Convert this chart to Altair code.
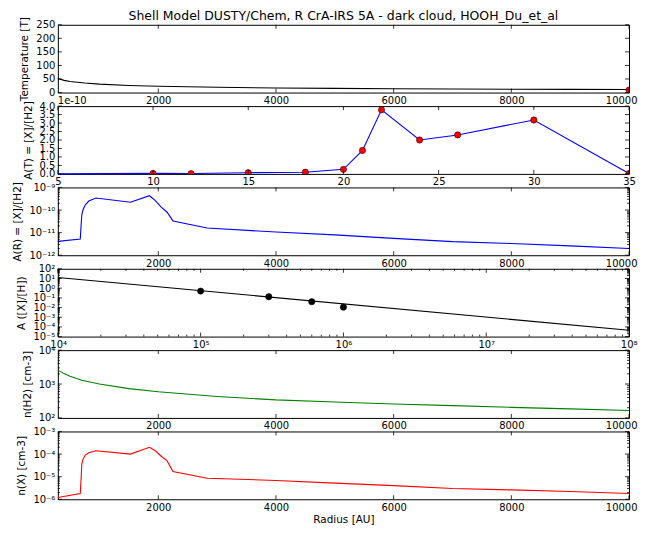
import math
import altair as alt
import pandas as pd

FONT = "DejaVu Sans"
TITLE = "Shell Model DUSTY/Chem, R CrA-IRS 5A - dark cloud, HOOH_Du_et_al"

# ---------------- data ----------------
# Panel 1: temperature profile
temp_radius = [293, 400, 500, 750, 1000, 1500, 2000, 3000, 4000, 5000, 6000, 7000, 8000, 9000, 10000]
temp_values = [52, 45, 41, 35, 31, 26, 23, 19.5, 17, 15.5, 14.2, 13.2, 12.3, 11.6, 11]
temp_mark_radius = [10000]
temp_mark_values = [9]

# Panel 2: abundance vs temperature
at_line_temp = [5, 10, 12, 15, 18, 20, 21, 22, 24, 26, 30, 35]
at_line_abund = [0.0, 0.03e-10, 0.02e-10, 0.07e-10, 0.1e-10, 0.27e-10, 1.38e-10, 3.78e-10, 2.0e-10, 2.3e-10, 3.18e-10, 0.02e-10]
at_pts_temp = [10, 12, 15, 18, 20, 21, 22, 24, 26, 30, 35]
at_pts_abund = [0.03e-10, 0.02e-10, 0.07e-10, 0.1e-10, 0.27e-10, 1.38e-10, 3.78e-10, 2.0e-10, 2.3e-10, 3.18e-10, 0.02e-10]

# Panels 3 and 6: abundance and density of X vs radius
model_radius = [293, 674, 690, 700, 720, 760, 820, 940, 1527, 1850, 1950, 2050, 2150, 2250,
                2830, 4000, 5000, 6000, 7000, 8000, 9000, 10000]
ar_abund = [4.1e-12, 5.2e-12, 2.5e-11, 6e-11, 1.0e-10, 1.7e-10, 2.5e-10, 3.4e-10, 2.2e-10, 4.3e-10,
            2.6e-10, 1.35e-10, 8e-11, 3.3e-11, 1.6e-11, 1.07e-11, 8e-12, 5.6e-12, 4.0e-12, 3.3e-12,
            2.6e-12, 2.0e-12]
nx_density = [1.2e-6, 1.8e-6, 1e-5, 3.5e-5, 6e-5, 9e-5, 1.15e-4, 1.4e-4, 1.0e-4, 2.0e-4,
              1.4e-4, 8e-5, 5e-5, 1.7e-5, 8.5e-6, 6.8e-6, 5.2e-6, 4.0e-6, 3.0e-6, 2.6e-6,
              2.2e-6, 1.8e-6]

# Panel 4: abundance vs density (log-log)
ah_line_x = [1e4, 1e8]
ah_line_y = [12.6, 4.5e-5]
ah_pts_x = [1e5, 3e5, 6e5, 1e6]
ah_pts_y = [0.5, 0.13, 0.04, 0.011]

# Panel 5: H2 density
nh2_radius = [293, 400, 500, 700, 1000, 1500, 2000, 3000, 4000, 5000, 6000, 7000, 8000, 9000, 10000]
nh2_density = [2570, 2030, 1700, 1300, 1000, 730, 590, 430, 340, 295, 258, 230, 205, 185, 166]

# Tick values
radius_ticks = [2000, 4000, 6000, 8000, 10000]
temp_ticks = [5, 10, 15, 20, 25, 30, 35]
T_ticks = [0, 50, 100, 150, 200, 250]
at_ticks = [0.0, 0.5e-10, 1.0e-10, 1.5e-10, 2.0e-10, 2.5e-10, 3.0e-10, 3.5e-10, 4.0e-10]
ar_exps = [-12, -11, -10, -9]
ah_x_exps = [4, 5, 6, 7, 8]
ah_y_exps = [-5, -4, -3, -2, -1, 0, 1, 2]
nh2_exps = [2, 3, 4]
nx_exps = [-6, -5, -4, -3]

# ---------------- helpers ----------------
W, H = 573, 68
SUP = str.maketrans("-0123456789", "\u207b\u2070\u00b9\u00b2\u00b3\u2074\u2075\u2076\u2077\u2078\u2079")


def pow_label(k):
    return "10" + str(k).translate(SUP)


def log_label_expr(exps):
    vals = [10.0 ** k for k in exps]
    expr = "'" + pow_label(exps[-1]) + "'"
    for i in range(len(exps) - 2, -1, -1):
        mid = math.sqrt(vals[i] * vals[i + 1])
        expr = "datum.value < %r ? '%s' : " % (mid, pow_label(exps[i])) + expr
    return expr


def minor_log(exps):
    return [m * 10.0 ** k for k in exps[:-1] for m in range(2, 10)]


def x_rules(vals, scale, axis, L, sw=0.8):
    base = alt.Chart(pd.DataFrame({"v": vals}))
    enc = alt.X("v:Q", scale=scale, axis=axis)
    b = base.mark_rule(color="black", strokeWidth=sw).encode(
        x=enc, y=alt.value(H), y2=alt.value(H - L))
    t = base.mark_rule(color="black", strokeWidth=sw).encode(
        x=enc, y=alt.value(0), y2=alt.value(L))
    return [b, t]


def y_rules(vals, scale, axis, L, sw=0.8):
    base = alt.Chart(pd.DataFrame({"v": vals}))
    enc = alt.Y("v:Q", scale=scale, axis=axis)
    l = base.mark_rule(color="black", strokeWidth=sw).encode(
        y=enc, x=alt.value(0), x2=alt.value(L))
    r = base.mark_rule(color="black", strokeWidth=sw).encode(
        y=enc, x=alt.value(W), x2=alt.value(W - L))
    return [l, r]


def lin_scale(d):
    return alt.Scale(domain=d, nice=False, zero=False)


def log_scale(exps):
    return alt.Scale(type="log", domain=[10.0 ** exps[0], 10.0 ** exps[-1]], nice=False)


def radius_axis(title=None):
    # last label pulled in slightly so the page does not overflow the window
    return alt.Axis(values=radius_ticks, format="d", title=title,
                    labelFlush=1, labelFlushOffset=8)


def lin_axis(vals, title=None, expr=None):
    if expr:
        return alt.Axis(values=vals, title=title, labelExpr=expr)
    return alt.Axis(values=vals, format="d", title=title)


def log_axis(exps, title=None, flush=False):
    if flush:
        return alt.Axis(values=[10.0 ** k for k in exps], labelExpr=log_label_expr(exps),
                        title=title, labelFlush=1, labelFlushOffset=8)
    return alt.Axis(values=[10.0 ** k for k in exps], labelExpr=log_label_expr(exps), title=title)


def circles(df, xf, yf, xs, ys, xa, ya, fill):
    return alt.Chart(df).mark_circle(size=40, fill=fill, stroke="black", strokeWidth=0.5,
                                     opacity=1, clip=True).encode(
        x=alt.X(xf, scale=xs, axis=xa), y=alt.Y(yf, scale=ys, axis=ya))


def line(df, xf, yf, xs, ys, xa, ya, color):
    return alt.Chart(df).mark_line(color=color, strokeWidth=1.1).encode(
        x=alt.X(xf, scale=xs, axis=xa), y=alt.Y(yf, scale=ys, axis=ya))


# ---------------- panel 1 ----------------
sx_r = lin_scale([293, 10000])
sy1 = lin_scale([0, 250])
xa1 = radius_axis()
ya1 = lin_axis(T_ticks, "Temperature [T]")
df1 = pd.DataFrame({"r": temp_radius, "T": temp_values})
df1m = pd.DataFrame({"r": temp_mark_radius, "T": temp_mark_values})
p1 = alt.layer(
    line(df1, "r:Q", "T:Q", sx_r, sy1, xa1, ya1, "black"),
    circles(df1m, "r:Q", "T:Q", sx_r, sy1, xa1, ya1, "red"),
    alt.Chart(pd.DataFrame({"t": [TITLE]})).mark_text(
        font=FONT, fontSize=12.5, baseline="top", align="center", color="black").encode(
        text="t:N", x=alt.value(W / 2), y=alt.value(-15)),
    *x_rules(radius_ticks, sx_r, xa1, 4), *y_rules(T_ticks, sy1, ya1, 4),
).properties(width=W, height=H)

# ---------------- panel 2 ----------------
sx_t = lin_scale([5, 35])
sy2 = lin_scale([0, 4.0e-10])
xa2 = lin_axis(temp_ticks)
ya2 = lin_axis(at_ticks, "A(T) = [X]/[H2]", expr="format(datum.value * 1e10, '.1f')")
df2 = pd.DataFrame({"T": at_line_temp, "A": at_line_abund})
df2p = pd.DataFrame({"T": at_pts_temp, "A": at_pts_abund})
p2 = alt.layer(
    line(df2, "T:Q", "A:Q", sx_t, sy2, xa2, ya2, "#0000ff"),
    circles(df2p, "T:Q", "A:Q", sx_t, sy2, xa2, ya2, "red"),
    alt.Chart(pd.DataFrame({"t": ["1e-10"]})).mark_text(
        font=FONT, fontSize=10, baseline="alphabetic", align="left", color="black").encode(
        text="t:N", x=alt.value(0), y=alt.value(-2.5)),
    *x_rules(temp_ticks, sx_t, xa2, 4), *y_rules(at_ticks, sy2, ya2, 4),
).properties(width=W, height=H)

# ---------------- panel 3 ----------------
sy3 = log_scale(ar_exps)
xa3 = radius_axis()
ya3 = log_axis(ar_exps, "A(R) = [X]/[H2]")
df3 = pd.DataFrame({"r": model_radius, "A": ar_abund})
p3 = alt.layer(
    line(df3, "r:Q", "A:Q", sx_r, sy3, xa3, ya3, "#0000ff"),
    *x_rules(radius_ticks, sx_r, xa3, 4),
    *y_rules([10.0 ** k for k in ar_exps], sy3, ya3, 4),
    *y_rules(minor_log(ar_exps), sy3, ya3, 2),
).properties(width=W, height=H)

# ---------------- panel 4 ----------------
sx4 = log_scale(ah_x_exps)
sy4 = log_scale(ah_y_exps)
xa4 = log_axis(ah_x_exps, flush=True)
ya4 = log_axis(ah_y_exps, "A ([X]/[H])")
df4 = pd.DataFrame({"n": ah_line_x, "A": ah_line_y})
df4p = pd.DataFrame({"n": ah_pts_x, "A": ah_pts_y})
p4 = alt.layer(
    line(df4, "n:Q", "A:Q", sx4, sy4, xa4, ya4, "black"),
    circles(df4p, "n:Q", "A:Q", sx4, sy4, xa4, ya4, "black"),
    *x_rules([10.0 ** k for k in ah_x_exps], sx4, xa4, 4),
    *x_rules(minor_log(ah_x_exps), sx4, xa4, 2),
    *y_rules([10.0 ** k for k in ah_y_exps], sy4, ya4, 4),
    *y_rules(minor_log(ah_y_exps), sy4, ya4, 2),
).properties(width=W, height=H)

# ---------------- panel 5 ----------------
sy5 = log_scale(nh2_exps)
xa5 = radius_axis()
ya5 = log_axis(nh2_exps, "n(H2) [cm-3]")
df5 = pd.DataFrame({"r": nh2_radius, "n": nh2_density})
p5 = alt.layer(
    line(df5, "r:Q", "n:Q", sx_r, sy5, xa5, ya5, "#008000"),
    *x_rules(radius_ticks, sx_r, xa5, 4),
    *y_rules([10.0 ** k for k in nh2_exps], sy5, ya5, 4),
    *y_rules(minor_log(nh2_exps), sy5, ya5, 2),
).properties(width=W, height=H)

# ---------------- panel 6 ----------------
sy6 = log_scale(nx_exps)
xa6 = radius_axis("Radius [AU]")
ya6 = log_axis(nx_exps, "n(X) [cm-3]")
df6 = pd.DataFrame({"r": model_radius, "n": nx_density})
p6 = alt.layer(
    line(df6, "r:Q", "n:Q", sx_r, sy6, xa6, ya6, "#ff0000"),
    *x_rules(radius_ticks, sx_r, xa6, 4),
    *y_rules([10.0 ** k for k in nx_exps], sy6, ya6, 4),
    *y_rules(minor_log(nx_exps), sy6, ya6, 2),
).properties(width=W, height=H)

chart = alt.vconcat(p1, p2, p3, p4, p5, p6, spacing=13.6, bounds="flush").configure_view(
    stroke="black", strokeWidth=1
).configure_axis(
    domain=False, ticks=False, grid=False,
    labelFont=FONT, labelFontSize=10, labelColor="black",
    titleFont=FONT, titleFontSize=10.5, titleFontWeight="normal", titleColor="black",
    labelPadding=3, labelFlush=False, labelOverlap=False,
).configure_axisY(titlePadding=6).configure_axisX(titlePadding=2.5).properties(
    padding={"left": 4, "top": 0, "right": 0, "bottom": 0})

chart.save("out.html", embed_options={"renderer": "svg", "actions": False})
